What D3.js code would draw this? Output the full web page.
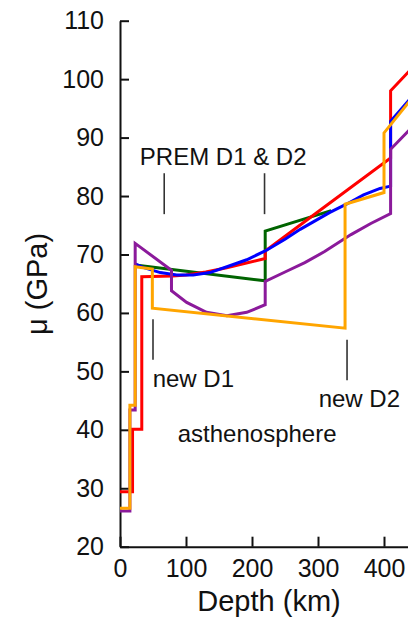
<!DOCTYPE html>
<html>
<head>
<meta charset="utf-8">
<script src="https://cdn.jsdelivr.net/npm/d3@7"></script>
<style>
  body { margin: 0; background: #fff; }
  svg { display: block; font-family: "Liberation Sans", Arial, sans-serif; }
</style>
</head>
<body>
<div id="chart"></div>
<script>
// depth (km) / shear modulus (GPa)
const redDepth = [0, 19, 19, 33, 33, 80, 100, 130, 160, 190, 220, 220, 300, 410, 410, 440];
const redMu = [29.4, 29.4, 40.1, 40.1, 66.2, 66.3, 66.5, 67.0, 67.7, 68.5, 69.3, 70.6, 77.3, 86.5, 98.0, 101.6];

const blueDepth = [23, 35, 61, 86, 111, 136, 162, 192, 220, 250, 273, 318, 343, 369, 394, 410, 410, 440];
const blueMu = [68.4, 67.8, 66.9, 66.5, 66.5, 66.9, 67.9, 69.1, 70.6, 72.6, 74.3, 77.2, 78.6, 80.2, 81.3, 81.7, 92.8, 96.7];

const greenDepth = [23, 220, 220, 320];
const greenMu = [68.2, 65.5, 74.0, 77.5];

const purpleDepth = [0, 15, 15, 23, 23, 78, 78, 101, 131, 162, 192, 220, 220, 250, 280, 310, 350, 380, 410, 410, 440];
const purpleMu = [26.1, 26.1, 43.4, 43.4, 71.9, 67.3, 63.8, 61.8, 60.1, 59.5, 60.1, 61.4, 65.4, 67.0, 68.6, 70.5, 73.4, 75.3, 77.0, 88.0, 91.5];

const orangeDepth = [0, 15, 15, 23, 23, 49, 49, 341, 341, 400, 400, 440];
const orangeMu = [26.6, 26.6, 44.2, 44.2, 67.9, 67.5, 60.8, 57.4, 78.6, 80.6, 90.8, 96.4];

const xTicks = [0, 100, 200, 300, 400, 500];
const yTicks = [20, 30, 40, 50, 60, 70, 80, 90, 100, 110];

// annotation marks: [depth, mu top, mu bottom]
const markLines = [[67, 83.9, 76.9], [219, 83.9, 76.9], [50, 58.9, 52.0], [344, 55.4, 48.5]];
const labels = [
  { text: 'PREM D1 & D2', depth: 30, mu: 85.3 },
  { text: 'new D1', depth: 49.5, mu: 47.3 },
  { text: 'new D2', depth: 301, mu: 43.9 },
  { text: 'asthenosphere', depth: 87.5, mu: 37.9 }
];

const W = 408, H = 618;
const svg = d3.select('#chart').append('svg')
  .attr('width', W)
  .attr('height', H);

const x = d3.scaleLinear().domain([0, 500]).range([120, 450]);
const y = d3.scaleLinear().domain([20, 110]).range([546.7, 20.7]);

svg.append('defs').append('clipPath').attr('id', 'plot')
  .append('rect')
  .attr('x', 120).attr('y', 20.7)
  .attr('width', W - 120).attr('height', 546.7 - 20.7);

// axes, ticks pointing inward
const xAxis = svg.append('g')
  .attr('transform', 'translate(0,546.7)')
  .call(d3.axisBottom(x).tickValues(xTicks).tickSizeInner(-10).tickSizeOuter(0).tickPadding(13));

const yAxis = svg.append('g')
  .attr('transform', 'translate(120,0)')
  .call(d3.axisLeft(y).tickValues(yTicks).tickSizeInner(-9).tickSizeOuter(0).tickPadding(16));

[xAxis, yAxis].forEach(g => {
  g.select('.domain').attr('stroke', '#111').attr('stroke-width', 2);
  g.selectAll('.tick line').attr('stroke', '#111').attr('stroke-width', 2);
  g.selectAll('.tick text').attr('fill', '#111').style('font-size', '25px')
    .style('font-family', '"Liberation Sans", Arial, sans-serif');
});

// axis titles
svg.append('text')
  .attr('x', 269).attr('y', 611)
  .attr('text-anchor', 'middle')
  .attr('fill', '#111')
  .style('font-size', '29px')
  .text('Depth (km)');

svg.append('text')
  .attr('transform', 'translate(47,284) rotate(-90)')
  .attr('text-anchor', 'middle')
  .attr('fill', '#111')
  .style('font-size', '29px')
  .text('μ (GPa)');

// annotation ticks and labels
svg.append('g').selectAll('line')
  .data(markLines)
  .join('line')
  .attr('x1', d => x(d[0])).attr('x2', d => x(d[0]))
  .attr('y1', d => y(d[1])).attr('y2', d => y(d[2]))
  .attr('stroke', '#333').attr('stroke-width', 1.6);

svg.append('g').selectAll('text')
  .data(labels)
  .join('text')
  .attr('x', d => x(d.depth)).attr('y', d => y(d.mu))
  .attr('fill', '#111')
  .style('font-size', '24px')
  .text(d => d.text);

// model curves
const series = [
  { depth: greenDepth, mu: greenMu, color: '#006400' },
  { depth: redDepth, mu: redMu, color: '#ff0000' },
  { depth: blueDepth, mu: blueMu, color: '#0000ff' },
  { depth: purpleDepth, mu: purpleMu, color: '#8b1a9b' },
  { depth: orangeDepth, mu: orangeMu, color: '#ffa500' }
];

const line = d3.line()
  .x(d => x(d[0]))
  .y(d => y(d[1]));

svg.append('g').attr('clip-path', 'url(#plot)')
  .selectAll('path')
  .data(series)
  .join('path')
  .attr('d', s => line(s.depth.map((dp, i) => [dp, s.mu[i]])))
  .attr('fill', 'none')
  .attr('stroke', s => s.color)
  .attr('stroke-width', 3);
</script>
</body>
</html>
